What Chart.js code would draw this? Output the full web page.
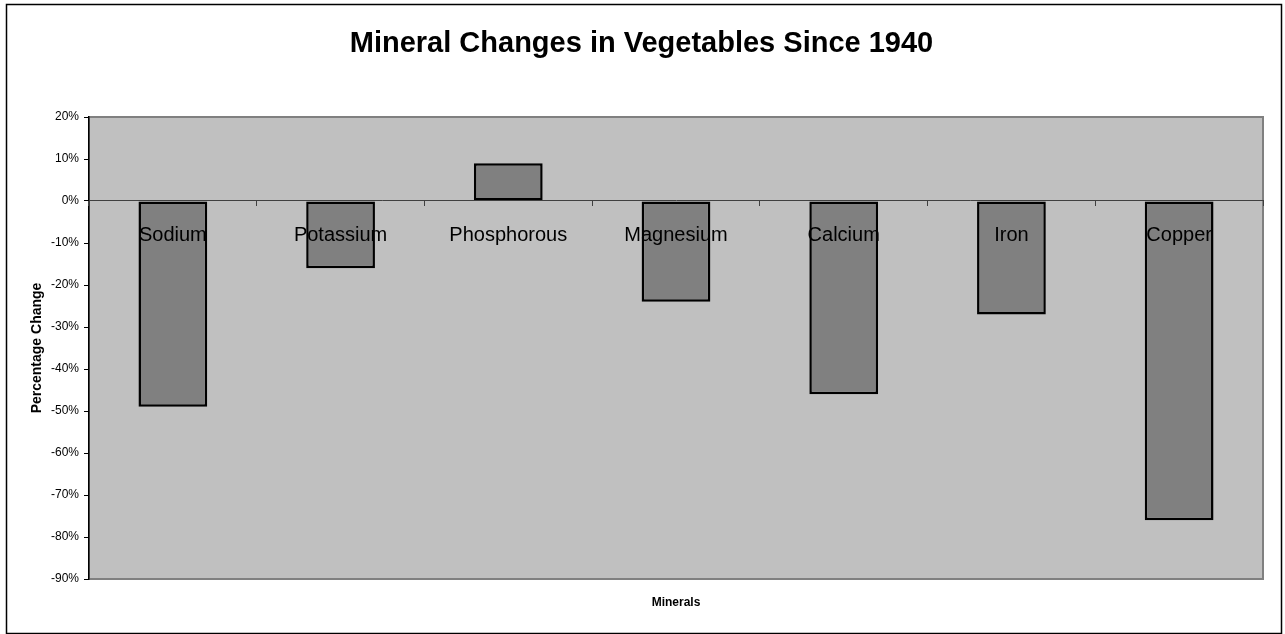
<!DOCTYPE html>
<html>
<head>
<meta charset="utf-8">
<script src="https://cdn.jsdelivr.net/npm/chart.js@4"></script>
<style>
  html, body { margin: 0; padding: 0; background: #fff; }
  #c { display: block; }
</style>
</head>
<body>
<canvas id="c" width="1285" height="634"></canvas>
<script>
const categories = ['Sodium', 'Potassium', 'Phosphorous', 'Magnesium', 'Calcium', 'Iron', 'Copper'];
const percentChange = [-49, -16, 9, -24, -46, -27, -76];
const yMin = -90;
const yMax = 20;
const yStep = 10;
const chartTitle = 'Mineral Changes in Vegetables Since 1940';
const xTitle = 'Minerals';
const yTitle = 'Percentage Change';

const FONT = '"Liberation Sans", Arial, Helvetica, sans-serif';

const framePlugin = {
  id: 'framePlugin',
  beforeDraw(chart) {
    const ctx = chart.ctx;
    const a = chart.chartArea;
    ctx.save();
    ctx.fillStyle = '#ffffff';
    ctx.fillRect(0, 0, chart.width, chart.height);
    // outer frame
    ctx.strokeStyle = '#000000';
    ctx.lineWidth = 1.5;
    ctx.strokeRect(6.5, 4.5, 1275, 629);
    // plot area
    ctx.fillStyle = '#c0c0c0';
    ctx.fillRect(a.left, a.top, a.right - a.left, a.bottom - a.top);
    ctx.strokeStyle = '#808080';
    ctx.lineWidth = 2;
    ctx.strokeRect(a.left, a.top, a.right - a.left, a.bottom - a.top);
    ctx.restore();
  }
};

new Chart(document.getElementById('c'), {
  type: 'bar',
  data: {
    labels: categories,
    datasets: [{
      label: yTitle,
      data: percentChange,
      backgroundColor: '#808080',
      borderColor: '#000000',
      borderWidth: 2.5,
      borderSkipped: false,
      categoryPercentage: 1,
      barPercentage: 0.41,
      xAxisID: 'x'
    }]
  },
  options: {
    responsive: false,
    animation: false,
    layout: { padding: { left: 20, right: 22, top: 0, bottom: 0 } },
    plugins: {
      legend: { display: false },
      tooltip: { enabled: false },
      title: {
        display: true,
        text: chartTitle,
        color: '#000',
        font: { family: FONT, size: 29, weight: 'bold', lineHeight: 1.2 },
        padding: { top: 26.6, bottom: 55.6 }
      }
    },
    scales: {
      x: {
        type: 'category',
        position: 'bottom',
        offset: true,
        grid: { display: false, offset: true },
        border: { display: false },
        ticks: { display: false },
        title: {
          display: true,
          text: xTitle,
          color: '#000',
          font: { family: FONT, size: 12, weight: 'bold', lineHeight: 1.2 },
          padding: { top: 0, bottom: 24.5 }
        },
        afterFit(scale) { scale.height = 55; }
      },
      x2: {
        type: 'category',
        position: { y: 0 },
        offset: true,
        grid: {
          display: true,
          z: 1,
          offset: true,
          drawOnChartArea: false,
          drawTicks: true,
          tickLength: 5,
          tickColor: '#404040',
          color: '#404040'
        },
        border: { display: true, z: 1, color: '#404040', width: 1 },
        ticks: {
          z: 2,
          color: '#000',
          font: { family: FONT, size: 20 },
          padding: 17,
          maxRotation: 0,
          autoSkip: false
        }
      },
      y: {
        type: 'linear',
        position: 'left',
        min: yMin,
        max: yMax,
        grid: {
          display: true,
          drawOnChartArea: false,
          drawTicks: true,
          tickLength: 5,
          tickColor: '#000',
          color: '#000'
        },
        border: { display: true, color: '#000', width: 1.5 },
        ticks: {
          stepSize: yStep,
          padding: 5,
          color: '#000',
          font: { family: FONT, size: 12 },
          callback: (v) => v + '%'
        },
        title: {
          display: true,
          text: yTitle,
          color: '#000',
          font: { family: FONT, size: 14, weight: 'bold', lineHeight: 1.2 },
          padding: { top: 9, bottom: 0 }
        },
        afterFit(scale) { scale.width = 69; }
      }
    }
  },
  plugins: [framePlugin]
});
</script>
</body>
</html>
